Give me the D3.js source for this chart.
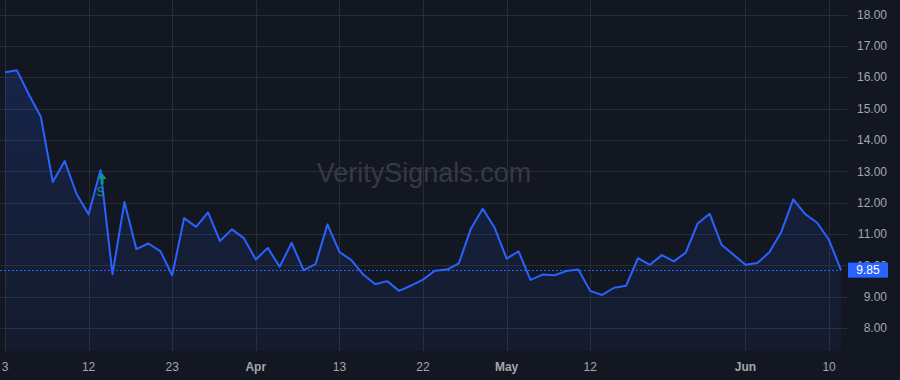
<!DOCTYPE html>
<html>
<head>
<meta charset="utf-8">
<script src="https://cdn.jsdelivr.net/npm/d3@7"></script>
<style>
  html, body { margin: 0; padding: 0; background: #131722; }
  svg { display: block; font-family: "Liberation Sans", Arial, sans-serif; }
</style>
</head>
<body>
<div id="chart"></div>
<script>
// trading days, 2021
const dates = [
  '03-03', '03-04', '03-05', '03-08', '03-09', '03-10', '03-11', '03-12', '03-15', '03-16',
  '03-17', '03-18', '03-19', '03-22', '03-23', '03-24', '03-25', '03-26', '03-29', '03-30',
  '03-31', '04-01', '04-05', '04-06', '04-07', '04-08', '04-09', '04-12', '04-13', '04-14',
  '04-15', '04-16', '04-19', '04-20', '04-21', '04-22', '04-23', '04-26', '04-27', '04-28',
  '04-29', '04-30', '05-03', '05-04', '05-05', '05-06', '05-07', '05-10', '05-11', '05-12',
  '05-13', '05-14', '05-17', '05-18', '05-19', '05-20', '05-21', '05-24', '05-25', '05-26',
  '05-27', '05-28', '06-01', '06-02', '06-03', '06-04', '06-07', '06-08', '06-09', '06-10',
  '06-11'
];
const prices = [
  16.16, 16.22, 15.45, 14.74, 12.66, 13.33, 12.27, 11.63, 13.04, 9.72,
  12.02, 10.52, 10.70, 10.46, 9.69, 11.51, 11.23, 11.69, 10.78, 11.15,
  10.87, 10.19, 10.56, 9.96, 10.72, 9.85, 10.04, 11.31, 10.43, 10.17,
  9.71, 9.40, 9.50, 9.19, 9.36, 9.55, 9.83, 9.87, 10.07, 11.16,
  11.81, 11.20, 10.22, 10.45, 9.54, 9.71, 9.69, 9.82, 9.87, 9.19,
  9.06, 9.29, 9.35, 10.23, 10.02, 10.33, 10.13, 10.41, 11.34, 11.65,
  10.66, 10.34, 10.02, 10.08, 10.42, 11.07, 12.11, 11.64, 11.36, 10.81,
  9.85
];
const xTickDates = ['03-03', '03-12', '03-23', '04-01', '04-13', '04-22', '05-03', '05-12', '06-01', '06-10'];
const xTickLabels = ['3', '12', '23', 'Apr', '13', '22', 'May', '12', 'Jun', '10'];
const monthLabels = ['Apr', 'May', 'Jun'];
const yTicks = [8, 9, 10, 11, 12, 13, 14, 15, 16, 17, 18];
const signalDates = ['03-15'];
const signalLabels = ['S'];
const lastPrice = 9.85;

const W = 900, H = 380;
const plotRight = 847, plotBottom = 351;

const svg = d3.select('#chart').append('svg').attr('width', W).attr('height', H);
svg.append('rect').attr('width', W).attr('height', H).attr('fill', '#131722');

const x = d3.scalePoint().domain(dates).range([5, 841]);
const y = d3.scaleLinear().domain([8, 18]).range([328.2, 14.5]);

// grid
svg.append('g').selectAll('line').data(yTicks).join('line')
  .attr('x1', 0).attr('x2', plotRight)
  .attr('y1', d => Math.round(y(d)) + 0.5).attr('y2', d => Math.round(y(d)) + 0.5)
  .attr('stroke', '#282c37').attr('stroke-width', 1);
svg.append('g').selectAll('line').data(xTickDates).join('line')
  .attr('x1', d => Math.round(x(d)) + 0.5).attr('x2', d => Math.round(x(d)) + 0.5)
  .attr('y1', 0).attr('y2', plotBottom)
  .attr('stroke', '#282c37').attr('stroke-width', 1);

// watermark
svg.append('text')
  .attr('x', 424).attr('y', 182)
  .attr('text-anchor', 'middle')
  .attr('font-size', 27)
  .attr('fill', '#363a45')
  .text('VeritySignals.com');

// area + line
const grad = svg.append('defs').append('linearGradient')
  .attr('id', 'fillGrad').attr('gradientUnits', 'userSpaceOnUse')
  .attr('x1', 0).attr('x2', 0).attr('y1', 14).attr('y2', plotBottom);
grad.append('stop').attr('offset', 0).attr('stop-color', '#2962ff').attr('stop-opacity', 0.2);
grad.append('stop').attr('offset', 1).attr('stop-color', '#2962ff').attr('stop-opacity', 0.05);

const series = dates.map((d, i) => [d, prices[i]]);

svg.append('path').datum(series)
  .attr('fill', 'url(#fillGrad)')
  .attr('d', d3.area().x(d => x(d[0])).y0(plotBottom).y1(d => y(d[1])));

// last price line
svg.append('line')
  .attr('x1', 0).attr('x2', x(dates[dates.length - 1]))
  .attr('y1', Math.round(y(lastPrice)) + 0.5).attr('y2', Math.round(y(lastPrice)) + 0.5)
  .attr('stroke', '#2962ff').attr('stroke-width', 1).attr('stroke-dasharray', '2,2');

svg.append('path').datum(series)
  .attr('fill', 'none')
  .attr('stroke', '#2962ff').attr('stroke-width', 2)
  .attr('stroke-linejoin', 'round')
  .attr('d', d3.line().x(d => x(d[0])).y(d => y(d[1])));

// signal markers
const sig = svg.append('g').selectAll('g').data(signalDates).join('g')
  .attr('transform', d => `translate(${x(d)}, ${y(prices[dates.indexOf(d)])})`);
sig.append('path')
  .attr('d', 'M1.5,3 L6,9 L3,9 L3,14 L0,14 L0,9 L-3,9 Z')
  .attr('fill', '#089981');
sig.append('text')
  .attr('y', 26).attr('text-anchor', 'middle')
  .attr('font-size', 12).attr('fill', '#089981')
  .text((d, i) => signalLabels[i]);

// y axis labels
svg.append('g').selectAll('text').data(yTicks).join('text')
  .attr('x', 887).attr('y', d => y(d))
  .attr('dy', '0.35em')
  .attr('text-anchor', 'end')
  .attr('font-size', 12).attr('fill', '#a3a6af')
  .text(d => d.toFixed(2));

// x axis labels
svg.append('g').selectAll('text').data(xTickDates).join('text')
  .attr('x', d => x(d)).attr('y', 367)
  .attr('dy', '0.35em')
  .attr('text-anchor', 'middle')
  .attr('font-size', 12).attr('fill', '#a3a6af')
  .attr('font-weight', (d, i) => monthLabels.includes(xTickLabels[i]) ? 'bold' : 'normal')
  .text((d, i) => xTickLabels[i]);

// last price badge
const ly = y(lastPrice);
svg.append('rect')
  .attr('x', 848).attr('y', ly - 7.5).attr('width', 40).attr('height', 15)
  .attr('fill', '#2962ff');
svg.append('text')
  .attr('x', 868).attr('y', ly).attr('dy', '0.35em')
  .attr('text-anchor', 'middle')
  .attr('font-size', 12).attr('fill', '#ffffff')
  .text(lastPrice.toFixed(2));
</script>
</body>
</html>
